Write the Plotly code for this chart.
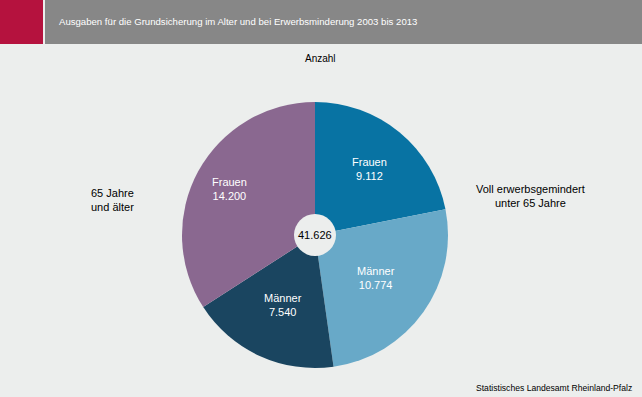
import math
import plotly.graph_objects as go

W, H = 642, 397
labels = ["Frauen", "Männer", "Männer", "Frauen"]
values = [9112, 10774, 7540, 14200]
colors = ["#0873a3", "#68a9c8", "#1a4560", "#8a6890"]
title = "Ausgaben für die Grundsicherung im Alter und bei Erwerbsminderung 2003 bis 2013"
subtitle = "Anzahl"
group_right = "Voll erwerbsgemindert<br>unter 65 Jahre"
group_left = "65 Jahre<br>und älter"
source = "Statistisches Landesamt Rheinland-Pfalz"

# label placement (fraction of radius, per slice) - style only
label_radius = [0.64, 0.56, 0.58, 0.73]

def fmt(v):
    return f"{v:,}".replace(",", ".")

total = sum(values)

BG = "#eceeed"
FONT = "Liberation Sans, Arial, sans-serif"

# pie geometry (pixels)
cx, cy, R = 315, 235, 133
fig = go.Figure(go.Pie(
    labels=[f"{l} {i}" for i, l in enumerate(labels)],
    values=values,
    textinfo="none",
    marker=dict(colors=colors, line=dict(width=0)),
    sort=False,
    direction="clockwise",
    rotation=0,
    showlegend=False,
    hoverinfo="label+value",
    domain=dict(x=[(cx - R) / W, (cx + R) / W], y=[1 - (cy + R) / H, 1 - (cy - R) / H]),
))

r0 = 21
shapes = [
    dict(type="rect", xref="paper", yref="paper", x0=0, x1=43 / W, y0=1 - 44 / H, y1=1,
         fillcolor="#b5123e", line=dict(width=0), layer="below"),
    dict(type="rect", xref="paper", yref="paper", x0=45 / W, x1=1, y0=1 - 44 / H, y1=1,
         fillcolor="#878787", line=dict(width=0), layer="below"),
    dict(type="circle", xref="paper", yref="paper", x0=(cx - r0) / W, x1=(cx + r0) / W,
         y0=1 - (cy + r0) / H, y1=1 - (cy - r0) / H, fillcolor=BG, line=dict(width=0)),
]

annotations = [
    dict(text=title, x=57 / W, y=1 - 22 / H, xref="paper", yref="paper", xanchor="left", yanchor="middle",
         showarrow=False, font=dict(color="white", size=9.6, family=FONT)),
    dict(text=subtitle, x=320 / W, y=1 - 58 / H, xref="paper", yref="paper", xanchor="center", yanchor="middle",
         showarrow=False, font=dict(color="#000", size=10, family=FONT)),
    dict(text=fmt(total), x=cx / W, y=1 - cy / H, xref="paper", yref="paper", xanchor="center", yanchor="middle",
         showarrow=False, font=dict(color="#000", size=11, family=FONT)),
    dict(text=group_right, x=530 / W, y=1 - 196 / H, xref="paper", yref="paper", xanchor="center", yanchor="middle",
         showarrow=False, align="center", font=dict(color="#000", size=11, family=FONT)),
    dict(text=group_left, x=112 / W, y=1 - 200 / H, xref="paper", yref="paper", xanchor="center", yanchor="middle",
         showarrow=False, align="center", font=dict(color="#000", size=11, family=FONT)),
    dict(text=source, x=634 / W, y=1 - 388 / H, xref="paper", yref="paper", xanchor="right", yanchor="middle",
         showarrow=False, font=dict(color="#000", size=8.6, family=FONT)),
]

# slice labels placed along each slice's bisector (computed from the data)
cum = 0
for lab, v, rf in zip(labels, values, label_radius):
    mid = (cum + v / 2) / total * 2 * math.pi
    cum += v
    px = cx + rf * R * math.sin(mid)
    py = cy - rf * R * math.cos(mid)
    annotations.append(dict(
        text=f"{lab}<br>{fmt(v)}", x=px / W, y=1 - py / H, xref="paper", yref="paper",
        xanchor="center", yanchor="middle", showarrow=False, align="center",
        font=dict(color="white", size=11, family=FONT)))

fig.update_layout(
    width=W, height=H,
    margin=dict(l=0, r=0, t=0, b=0),
    paper_bgcolor=BG, plot_bgcolor=BG,
    shapes=shapes, annotations=annotations,
    font=dict(family=FONT),
)
fig.write_html("out.html", config={"displayModeBar": False},
               post_script="document.body.style.margin='0';document.body.style.background='%s';" % BG)
